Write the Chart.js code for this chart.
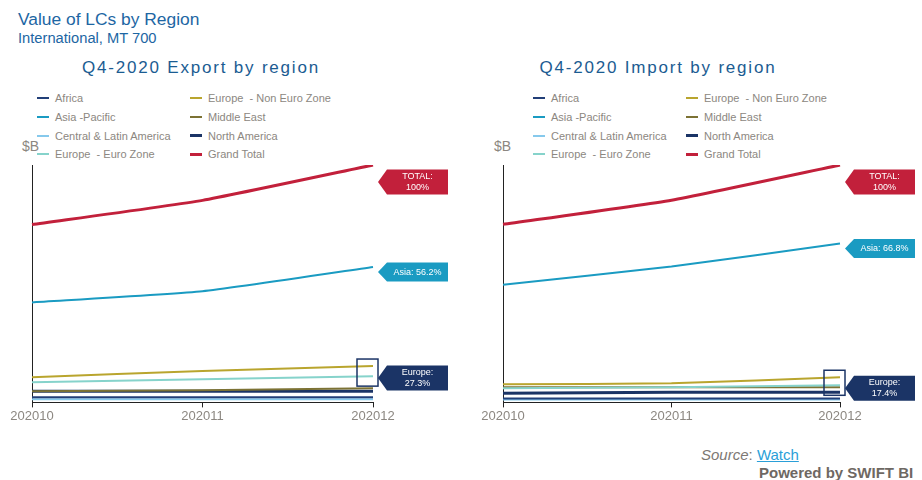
<!DOCTYPE html>
<html>
<head>
<meta charset="utf-8">
<script src="https://cdn.jsdelivr.net/npm/chart.js@4/dist/chart.umd.min.js"></script>
<style>
  body { margin: 0; width: 922px; height: 480px; background: #fff; font-family: "Liberation Sans", Arial, sans-serif; position: relative; overflow: hidden; }
  .abs { position: absolute; }
  #title { left: 18px; top: 9px; font-size: 17.4px; color: #1d66a3; }
  #subtitle { left: 18px; top: 30px; font-size: 14.7px; color: #1d66a3; }
  .ctitle { top: 58px; font-size: 17px; letter-spacing: 1.8px; color: #1b5c92; text-align: center; }
  .legend { display: grid; grid-template-columns: 153px 153px; grid-template-rows: repeat(4, 18.7px); grid-auto-flow: column; font-size: 11px; color: #8c8781; white-space: pre; }
  .legend div { display: flex; align-items: center; }
  .legend span { display: inline-block; width: 12px; margin-right: 6px; }
  .unit { font-size: 14px; color: #8c8781; }
  .wrap { position: absolute; top: 160px; height: 265px; }
  #source { left: 701px; top: 446px; font-size: 15px; color: #7d7873; }
  #source i { font-style: italic; }
  #source a { color: #2a9fd8; text-decoration: underline; }
  #powered { left: 759px; top: 464px; font-size: 15px; font-weight: bold; color: #6e6863; }
</style>
</head>
<body>
<div id="title" class="abs">Value of LCs by Region</div>
<div id="subtitle" class="abs">International, MT 700</div>

<div class="abs ctitle" style="left:0;width:402px">Q4-2020 Export by region</div>
<div class="abs ctitle" style="left:460px;width:396px">Q4-2020 Import by region</div>

<div id="legendExp" class="abs legend" style="left:37px;top:89px"></div>
<div id="legendImp" class="abs legend" style="left:533px;top:89px"></div>

<div class="abs unit" style="left:22px;top:138px">$B</div>
<div class="abs unit" style="left:494px;top:138px">$B</div>

<div class="wrap" style="left:0;width:460px"><canvas id="expChart"></canvas></div>
<div class="wrap" style="left:460px;width:462px"><canvas id="impChart"></canvas></div>

<div id="source" class="abs"><i>Source</i>: <a>Watch</a></div>
<div id="powered" class="abs">Powered by SWIFT BI</div>

<script>
const months = ['202010', '202011', '202012'];
const regions = ['Africa', 'Asia -Pacific', 'Central & Latin America', 'Europe  - Euro Zone',
  'Europe  - Non Euro Zone', 'Middle East', 'North America', 'Grand Total'];
const colors = ['#223f78', '#1a9bc2', '#86c9ec', '#86d3cb', '#b9a52e', '#7c7234', '#1b3466', '#c2203b'];
const widths = [2, 2, 2, 2, 2, 2, 3, 3];

// export values, $B
const africaExp  = [0.5, 0.5, 0.5];
const asiaExp    = [9.9, 11.0, 13.4];
const latamExp   = [0.3, 0.3, 0.3];
const euroExp    = [2.0, 2.3, 2.6];
const nonEuroExp = [2.5, 3.1, 3.6];
const meastExp   = [1.1, 1.2, 1.4];
const namExp     = [1.1, 1.1, 1.1];
const totalExp   = [17.6, 20.0, 23.5];

// import values, $B
const africaImp  = [0.4, 0.4, 0.4];
const asiaImp    = [11.7, 13.5, 15.8];
const latamImp   = [0.3, 0.3, 0.3];
const euroImp    = [1.4, 1.5, 1.7];
const nonEuroImp = [1.8, 1.9, 2.5];
const meastImp   = [1.5, 1.5, 1.5];
const namImp     = [0.9, 1.0, 1.0];
const totalImp   = [17.7, 20.1, 23.6];

const expCallouts = [['TOTAL:', '100%'], ['Asia: 56.2%'], ['Europe:', '27.3%']];
const impCallouts = [['TOTAL:', '100%'], ['Asia: 66.8%'], ['Europe:', '17.4%']];

const FONT = '"Liberation Sans", Arial, sans-serif';

// tags at the right end of the lines
const calloutPlugin = {
  id: 'callouts',
  afterDatasetsDraw(chart, args, opts) {
    const { ctx, scales } = chart;
    const last = months.length - 1;
    const xEnd = scales.x.getPixelForValue(last);
    opts.tags.forEach(t => {
      const ys = t.series.map(i => scales.y.getPixelForValue(chart.data.datasets[i].data[last]));
      const top = Math.min(...ys), bot = Math.max(...ys);
      const cy = (top + bot) / 2 + t.shift;
      const h = t.text.length > 1 ? 25 : 19;
      const tip = xEnd + 5, x0 = xEnd + 14, x1 = xEnd + 75;
      ctx.save();
      if (t.box) {
        ctx.strokeStyle = t.color;
        ctx.lineWidth = 1.5;
        ctx.strokeRect(xEnd - 16, top - 7, 21, bot - top + 17);
      }
      ctx.fillStyle = t.color;
      ctx.beginPath();
      ctx.moveTo(tip, cy);
      ctx.lineTo(x0, cy - h / 2);
      ctx.lineTo(x1, cy - h / 2);
      ctx.lineTo(x1, cy + h / 2);
      ctx.lineTo(x0, cy + h / 2);
      ctx.closePath();
      ctx.fill();
      ctx.fillStyle = '#fff';
      ctx.font = '9px ' + FONT;
      ctx.textAlign = 'center';
      ctx.textBaseline = 'middle';
      const mid = (x0 + x1) / 2;
      if (t.text.length > 1) {
        ctx.fillText(t.text[0], mid, cy - 5.5);
        ctx.fillText(t.text[1], mid, cy + 5.5);
      } else {
        ctx.fillText(t.text[0], mid, cy);
      }
      ctx.restore();
    });
  }
};

function makeChart(id, series, callouts, pad) {
  const ymax = Math.max(...series[7]);
  const chart = new Chart(document.getElementById(id), {
    type: 'line',
    data: {
      labels: months,
      datasets: series.map((d, i) => ({
        label: regions[i], data: d, borderColor: colors[i], backgroundColor: colors[i],
        borderWidth: widths[i], pointRadius: 0, tension: 0.15
      }))
    },
    options: {
      responsive: true, maintainAspectRatio: false, animation: false,
      layout: { padding: pad },
      plugins: {
        legend: { display: false }, tooltip: { enabled: false },
        callouts: { tags: [
          { series: [7], text: callouts[0], color: '#c2203b', shift: 17 },
          { series: [1], text: callouts[1], color: '#1a9bc2', shift: 5 },
          { series: [3, 4], text: callouts[2], color: '#1b3466', shift: 7, box: true }
        ] }
      },
      scales: {
        x: {
          offset: false,
          grid: { drawOnChartArea: false, drawTicks: true, tickLength: 5, color: '#222' },
          border: { display: true, color: '#222', width: 1 },
          ticks: { color: '#8c8781', font: { family: FONT, size: 13 }, padding: 1, maxRotation: 0 }
        },
        y: {
          min: 0, max: ymax,
          grid: { display: false },
          border: { display: true, color: '#222', width: 1 },
          ticks: { display: false }
        }
      }
    },
    plugins: [calloutPlugin]
  });
  return chart;
}

function buildLegend(chart, elId) {
  const el = document.getElementById(elId);
  chart.data.datasets.forEach(ds => {
    const item = document.createElement('div');
    const mark = document.createElement('span');
    mark.style.height = ds.borderWidth + 'px';
    mark.style.background = ds.borderColor;
    item.appendChild(mark);
    item.appendChild(document.createTextNode(ds.label));
    el.appendChild(item);
  });
}

const expChart = makeChart('expChart',
  [africaExp, asiaExp, latamExp, euroExp, nonEuroExp, meastExp, namExp, totalExp],
  expCallouts, { left: 24, right: 87, top: 5, bottom: 0 });
const impChart = makeChart('impChart',
  [africaImp, asiaImp, latamImp, euroImp, nonEuroImp, meastImp, namImp, totalImp],
  impCallouts, { left: 35, right: 82, top: 5, bottom: 0 });

buildLegend(expChart, 'legendExp');
buildLegend(impChart, 'legendImp');
</script>
</body>
</html>
